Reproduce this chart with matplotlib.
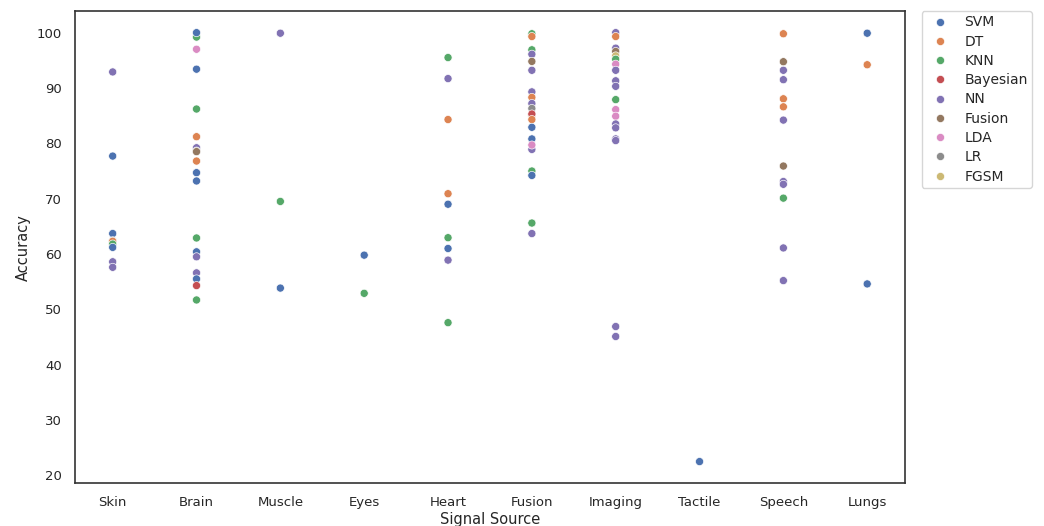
import matplotlib
matplotlib.use("Agg")
import matplotlib.pyplot as plt
import seaborn as sns
import pandas as pd

sources = ["Skin", "Brain", "Muscle", "Eyes", "Heart", "Fusion", "Imaging", "Tactile", "Speech", "Lungs"]
methods = ["SVM", "DT", "KNN", "Bayesian", "NN", "Fusion", "LDA", "LR", "FGSM"]

skin_method = ["NN", "SVM", "SVM", "LR", "DT", "KNN", "SVM", "NN", "NN"]
skin_acc = [92.9, 77.7, 63.7, 62.4, 62.3, 61.8, 61.2, 58.6, 57.6]

brain_method = ["KNN", "SVM", "LDA", "SVM", "KNN", "DT", "NN", "LR", "Fusion", "DT", "SVM", "SVM",
                "KNN", "SVM", "NN", "NN", "SVM", "Bayesian", "KNN"]
brain_acc = [99.2, 100.0, 97.0, 93.4, 86.2, 81.2, 79.2, 78.6, 78.5, 76.8, 74.7, 73.2,
             62.9, 60.4, 59.5, 56.6, 55.5, 54.3, 51.7]

muscle_method = ["NN", "KNN", "SVM"]
muscle_acc = [99.9, 69.5, 53.85]

eyes_method = ["SVM", "KNN"]
eyes_acc = [59.8, 52.9]

heart_method = ["KNN", "NN", "DT", "DT", "SVM", "KNN", "SVM", "NN", "KNN"]
heart_acc = [95.5, 91.7, 84.3, 70.9, 69.0, 62.95, 61.0, 58.9, 47.6]

fusion_method = ["KNN", "DT", "KNN", "NN", "Fusion", "NN", "NN", "DT", "NN", "LR", "FGSM", "Bayesian",
                 "DT", "SVM", "SVM", "NN", "LDA", "KNN", "SVM", "KNN", "NN"]
fusion_acc = [99.8, 99.3, 96.9, 96.1, 94.8, 93.2, 89.3, 88.3, 87.2, 86.3, 85.0, 85.3,
              84.3, 82.9, 80.8, 78.9, 79.7, 75.0, 74.2, 65.6, 63.7]

imaging_method = ["NN", "DT", "NN", "Fusion", "FGSM", "KNN", "LDA", "NN", "NN", "NN", "KNN", "LDA",
                  "LDA", "NN", "NN", "NN", "NN", "NN", "NN"]
imaging_acc = [100.0, 99.3, 97.2, 96.6, 95.8, 95.2, 94.3, 93.2, 91.3, 90.3, 87.9, 86.1,
               84.9, 83.5, 82.8, 80.8, 80.5, 46.9, 45.1]

tactile_method = ["SVM"]
tactile_acc = [22.5]

speech_method = ["DT", "Fusion", "NN", "NN", "DT", "DT", "NN", "Fusion", "NN", "NN", "KNN", "NN", "NN"]
speech_acc = [99.8, 94.75, 93.2, 91.5, 88.05, 86.6, 84.2, 75.9, 73.1, 72.6, 70.1, 61.1, 55.2]

lungs_method = ["SVM", "DT", "SVM"]
lungs_acc = [99.9, 94.2, 54.6]

groups = [
    ("Skin", skin_method, skin_acc),
    ("Brain", brain_method, brain_acc),
    ("Muscle", muscle_method, muscle_acc),
    ("Eyes", eyes_method, eyes_acc),
    ("Heart", heart_method, heart_acc),
    ("Fusion", fusion_method, fusion_acc),
    ("Imaging", imaging_method, imaging_acc),
    ("Tactile", tactile_method, tactile_acc),
    ("Speech", speech_method, speech_acc),
    ("Lungs", lungs_method, lungs_acc),
]

rows = []
for src, meths, accs in groups:
    for m, a in zip(meths, accs):
        rows.append({"Signal Source": src, "Accuracy": a, "Method": m})
df = pd.DataFrame(rows)

sns.set_theme(style="white")
plt.rcParams["font.family"] = ["DejaVu Sans"]

fig = plt.figure(figsize=(10.44, 5.26), dpi=100)
ax = fig.add_axes([0.0718, 0.0817, 0.795, 0.897])
sns.scatterplot(data=df, x="Signal Source", y="Accuracy", hue="Method",
                hue_order=methods, palette="deep", s=34, ax=ax)
ax.set_yticks([20, 30, 40, 50, 60, 70, 80, 90, 100])
ax.tick_params(axis="both", labelsize=9.5, colors="#262626")
ax.set_xlabel("Signal Source", fontsize=10.5, labelpad=2)
ax.set_ylabel("Accuracy", fontsize=10.5)
for sp in ax.spines.values():
    sp.set_color("#333333")
    sp.set_linewidth(1.2)
leg = ax.legend(bbox_to_anchor=(1.02, 1.0), loc="upper left", borderaxespad=0,
                fontsize=10, markerscale=1.0, labelspacing=0.38, borderpad=0.3)
fig.savefig("out.png", dpi=100)
